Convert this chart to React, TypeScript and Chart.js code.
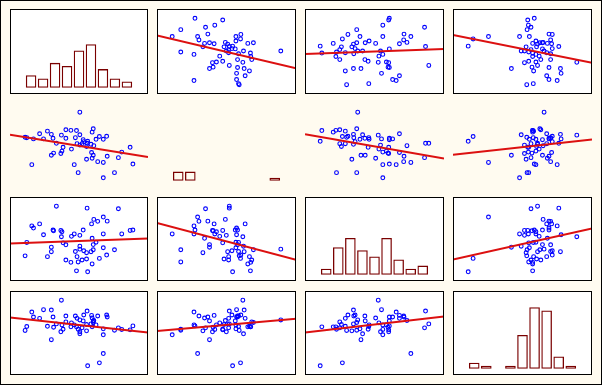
import React, { useEffect, useRef } from "react";
import { Chart, registerables } from "chart.js";

Chart.register(...registerables);

const var0 = [222, 217, 202, 196, 189, 176, 175, 169, 169, 169, 162, 159, 156, 152, 151, 151, 149, 149, 148, 147, 141, 140, 139, 139, 134, 133, 131, 127, 127, 127, 124, 122, 121, 119, 117, 112, 111, 102, 102, 97, 95, 94, 93, 85, 79, 80, 76, 76, 69, 62, 55, 44, 41, 32, 29];
const var1 = [118, 202, 178, 150, 75, 157, 257, 49, 126, 242, 256, 130, 242, 210, 295, 162, 278, 147, 176, 217, 232, 222, 142, 206, 230, 240, 220, 378, 265, 213, 75, 220, 286, 250, 115, 193, 287, 290, 247, 202, 183, 263, 171, 222, 247, 173, 162, 267, 283, 244, 270, 244, 115, 250, 252];
const var2 = [257, 255, 237, 365, 157, 302, 130, 237, 323, 167, 113, 301, 195, 311, 157, 183, 85, 215, 288, 147, 45, 368, 142, 110, 152, 257, 105, 160, 175, 230, 95, 122, 50, 148, 237, 225, 93, 105, 182, 192, 248, 223, 255, 378, 257, 253, 170, 147, 122, 233, 288, 267, 278, 194, 126];
const var3 = [235, 215, 217, 225, 213, 280, 290, 190, 95, 220, 48, 285, 240, 262, 252, 260, 230, 275, 288, 245, 33, 310, 210, 242, 290, 260, 225, 265, 195, 205, 218, 273, 230, 285, 240, 250, 230, 255, 285, 218, 240, 365, 205, 245, 280, 228, 165, 315, 233, 317, 273, 280, 305, 232, 212];

// Histogram counts shown on the diagonal (9 bins each)
const hist0 = [4, 3, 8, 7, 12, 14, 6, 3, 2];
const hist1 = [3, 3, 0, 0, 0, 0, 0, 0, 1];
const hist2 = [2, 9, 12, 8, 6, 12, 5, 2, 3];
const hist3 = [2, 1, 0, 1, 11, 20, 19, 4, 1];

const VARS = [var0, var1, var2, var3];
const HISTS = [hist0, hist1, hist2, hist3];

// Layout
const COL_LEFT = [10, 157, 305, 453];
const COL_W = [138, 139, 139, 139];
const ROW_TOP = [9, 103, 197, 291];
const ROW_H = [85, 84, 84, 84];
const FRAMED_ROWS = [true, false, true, true];
const PAD = 0.14;
const HIST_Y_MIN = -2;
const HIST_Y_MAX = 25.3;

const BG = "#fffbf0";
const POINT_COLOR = "#0000ff";
const LINE_COLOR = "#dc1010";
const BAR_COLOR = "#7a0000";

function paddedRange(arr: number[]): [number, number] {
  const mn = Math.min(...arr);
  const mx = Math.max(...arr);
  const p = (mx - mn) * PAD;
  return [mn - p, mx + p];
}

function Cell({ row, col }: { row: number; col: number }) {
  const ref = useRef<HTMLCanvasElement>(null);
  useEffect(() => {
    const canvas = ref.current!;
    const framed = FRAMED_ROWS[row];
    const framePlugin = {
      id: "cellFrame",
      beforeDraw(chart: any) {
        if (!framed) return;
        const { ctx, width, height } = chart;
        ctx.save();
        ctx.fillStyle = "#ffffff";
        ctx.fillRect(0, 0, width, height);
        ctx.restore();
      },
      afterDraw(chart: any) {
        if (!framed) return;
        const { ctx, width, height } = chart;
        ctx.save();
        ctx.strokeStyle = "#000000";
        ctx.lineWidth = 1;
        ctx.strokeRect(0.5, 0.5, width - 1, height - 1);
        ctx.restore();
      },
    };
    const xs = VARS[col];
    const [xmin, xmax] = paddedRange(xs);
    let config: any;
    const common = {
      responsive: false,
      animation: false,
      devicePixelRatio: 1,
      events: [],
      layout: { padding: 0, autoPadding: false },
      plugins: { legend: { display: false }, tooltip: { enabled: false } },
    };
    if (row === col) {
      const counts = HISTS[col];
      const mn = Math.min(...xs);
      const mx = Math.max(...xs);
      const w = (mx - mn) / counts.length;
      const data = counts.map((c, i) => ({ x: mn + (i + 0.5) * w, y: c }));
      config = {
        type: "bar",
        data: {
          datasets: [
            {
              data,
              backgroundColor: "rgba(255,255,255,0)",
              borderColor: BAR_COLOR,
              borderWidth: 1.3,
              borderSkipped: false,
              barPercentage: 0.88,
              categoryPercentage: 1,
            },
          ],
        },
        options: {
          ...common,
          scales: {
            x: { type: "linear", min: xmin, max: xmax, display: false, offset: false },
            y: { type: "linear", min: HIST_Y_MIN, max: HIST_Y_MAX, display: false },
          },
        },
        plugins: [framePlugin],
      };
    } else {
      const ys = VARS[row];
      const [ymin, ymax] = paddedRange(ys);
      const n = xs.length;
      const mxv = xs.reduce((a, b) => a + b, 0) / n;
      const myv = ys.reduce((a, b) => a + b, 0) / n;
      let sxy = 0;
      let sxx = 0;
      for (let i = 0; i < n; i++) {
        sxy += (xs[i] - mxv) * (ys[i] - myv);
        sxx += (xs[i] - mxv) * (xs[i] - mxv);
      }
      const slope = sxy / sxx;
      const icpt = myv - slope * mxv;
      const pts = xs.map((x, i) => ({ x, y: ys[i] }));
      config = {
        type: "scatter",
        data: {
          datasets: [
            {
              data: [
                { x: xmin, y: icpt + slope * xmin },
                { x: xmax, y: icpt + slope * xmax },
              ],
              showLine: true,
              borderColor: LINE_COLOR,
              borderWidth: 2,
              pointRadius: 0,
              order: 0,
            },
            {
              data: pts,
              pointRadius: 1.9,
              pointBorderWidth: 1.1,
              pointBorderColor: POINT_COLOR,
              pointBackgroundColor: "rgba(255,255,255,0)",
              borderColor: POINT_COLOR,
              backgroundColor: "rgba(255,255,255,0)",
              order: 1,
            },
          ],
        },
        options: {
          ...common,
          scales: {
            x: { type: "linear", min: xmin, max: xmax, display: false },
            y: { type: "linear", min: ymin, max: ymax, display: false },
          },
        },
        plugins: [framePlugin],
      };
    }
    const chart = new Chart(canvas, config);
    return () => chart.destroy();
  }, [row, col]);
  return (
    <canvas
      ref={ref}
      width={COL_W[col]}
      height={ROW_H[row]}
      style={{
        position: "absolute",
        left: COL_LEFT[col],
        top: ROW_TOP[row],
        width: COL_W[col],
        height: ROW_H[row],
      }}
    />
  );
}

export default function App() {
  useEffect(() => {
    document.body.style.margin = "0";
  }, []);
  const cells = [];
  for (let r = 0; r < 4; r++) {
    for (let c = 0; c < 4; c++) {
      cells.push(<Cell key={`${r}-${c}`} row={r} col={c} />);
    }
  }
  return (
    <div
      style={{
        position: "absolute",
        left: 0,
        top: 0,
        width: 602,
        height: 385,
        background: BG,
        overflow: "hidden",
      }}
    >
      {cells}
      <div
        style={{
          position: "absolute",
          left: 0,
          top: 0,
          width: 602,
          height: 385,
          boxSizing: "border-box",
          border: "1px solid #000",
          pointerEvents: "none",
        }}
      />
    </div>
  );
}
